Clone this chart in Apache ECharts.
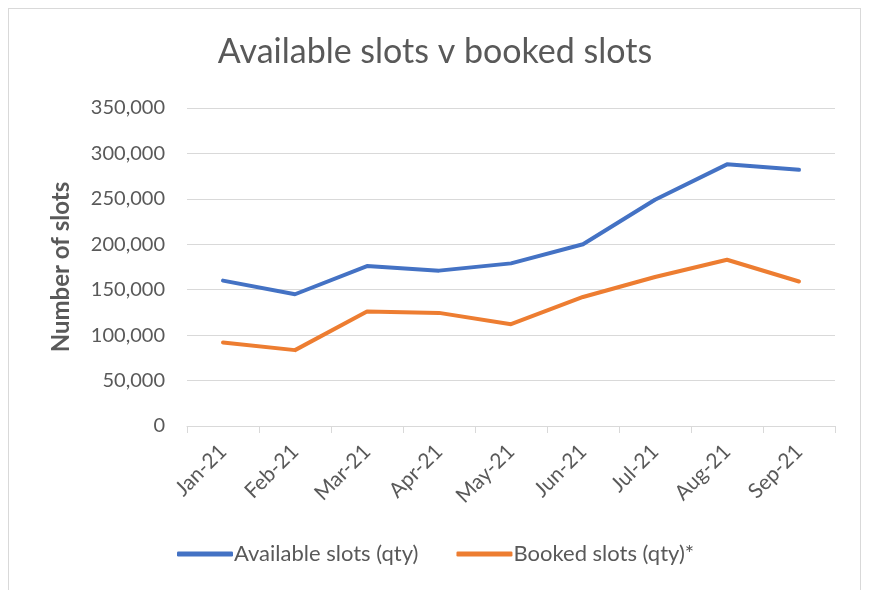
<!DOCTYPE html>
<html lang="en">
<head>
  <meta charset="UTF-8">
  <title>Available slots v booked slots</title>
  <script src="https://cdn.jsdelivr.net/npm/echarts@6.0.0/dist/echarts.min.js"></script>
  <style>
    html, body { margin: 0; padding: 0; background: #fff; }
    /* chart container fills the window */
    #main { width: 870px; height: 590px; position: relative; }
    /* thin frame around the chart area, like the spreadsheet chart box */
    .frame {
      position: absolute; left: 8px; top: 8px; width: 853px; height: 590px;
      border: 1px solid #d9d9d9; box-sizing: border-box; pointer-events: none;
    }
  </style>
</head>
<body>
  <div id="main"></div>
  <div class="frame"></div>

  <script>
    // data
    const months = ['Jan-21', 'Feb-21', 'Mar-21', 'Apr-21', 'May-21', 'Jun-21', 'Jul-21', 'Aug-21', 'Sep-21'];
    const availableSlots = [160000, 145000, 176000, 171000, 179000, 200000, 249000, 288000, 282000];
    const bookedSlots = [92000, 83500, 126000, 124500, 112000, 142000, 164000, 183000, 159000];

    const textColor = '#595959';
    const font = "Lato, 'Open Sans', sans-serif";

    let myChart = echarts.init(document.getElementById('main'));

    let option = {
      animation: false,
      title: {
        text: 'Available slots v booked slots',
        left: 'center',
        top: 30,
        textStyle: { fontFamily: font, fontSize: 34, fontWeight: 'normal', color: textColor }
      },
      legend: {
        bottom: 20,
        left: 172,
        itemWidth: 56,
        itemHeight: 5,
        itemGap: 38,
        icon: 'roundRect',
        textStyle: { fontFamily: font, fontSize: 22, color: textColor, padding: [0, 0, 0, -4] },
        data: ['Available slots (qty)', 'Booked slots (qty)*']
      },
      grid: { left: 187, right: 35, top: 108, bottom: 164 },
      xAxis: {
        type: 'category',
        data: months,
        boundaryGap: true,
        axisLine: { lineStyle: { color: '#d9d9d9', width: 1 } },
        axisTick: { show: true, length: 7, lineStyle: { color: '#d9d9d9' } },
        axisLabel: { rotate: 45, fontFamily: font, fontSize: 21, color: textColor, margin: 22 }
      },
      yAxis: {
        type: 'value',
        min: 0,
        max: 350000,
        interval: 50000,
        name: 'Number of slots',
        nameLocation: 'middle',
        nameGap: 114,
        nameTextStyle: { fontFamily: font, fontSize: 24, fontWeight: 'bold', color: textColor },
        axisLine: { show: false },
        axisTick: { show: false },
        splitLine: { lineStyle: { color: '#d9d9d9', width: 1 } },
        axisLabel: {
          fontFamily: font, fontSize: 20, color: textColor, margin: 22,
          formatter: v => v.toLocaleString('en-US')
        }
      },
      series: [
        {
          name: 'Available slots (qty)', type: 'line', data: availableSlots,
          symbol: 'none', itemStyle: { color: '#4472c4' },
          lineStyle: { width: 4, color: '#4472c4', cap: 'round', join: 'round' }
        },
        {
          name: 'Booked slots (qty)*', type: 'line', data: bookedSlots,
          symbol: 'none', itemStyle: { color: '#ed7d31' },
          lineStyle: { width: 4, color: '#ed7d31', cap: 'round', join: 'round' }
        }
      ]
    };
    myChart.setOption(option);

    window.addEventListener('resize', function () {
      myChart.resize();
    });
  </script>
</body>
</html>
